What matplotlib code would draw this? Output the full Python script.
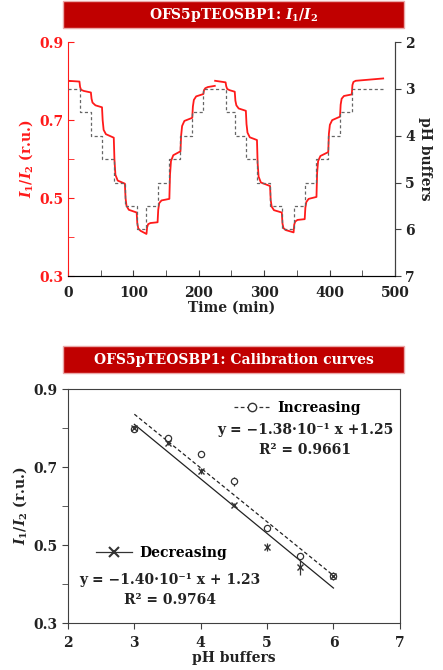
import numpy as np
import matplotlib
matplotlib.use("Agg")
import matplotlib.pyplot as plt
from matplotlib.patches import Rectangle
from matplotlib.lines import Line2D
from matplotlib.ticker import MultipleLocator, FixedLocator

plt.rcParams['font.family'] = ['DejaVu Serif']
plt.rcParams['font.weight'] = 'bold'
plt.rcParams['axes.labelweight'] = 'bold'
plt.rcParams['mathtext.fontset'] = 'custom'
plt.rcParams['mathtext.it'] = 'DejaVu Serif:italic:bold'
plt.rcParams['mathtext.rm'] = 'DejaVu Serif:bold'
plt.rcParams['mathtext.bf'] = 'DejaVu Serif:bold'

RED = '#ff1a1a'
BAR = '#c00000'
GREY = '#404040'
FS = 10

# --- time course: I1/I2 ratio (red), NaN marks the gap
time_min = [0, 17.5, 18.5, 20, 24, 35, 36, 37.5, 42, 52, 53, 54.5, 58, 70,
            71, 72.5, 76, 87, 88, 89.5, 93, 105, 106, 107.5, 111, 120,
            121, 122.5, 126, 137, 138, 139.5, 143, 155, 156, 157.5, 161, 172,
            173, 174.5, 178, 190, 191, 192.5, 196, 207, 208, 210, 214, 224.5,
            224.8, 225, 241, 242, 243.5, 247, 255, 256, 257.5, 261, 272,
            273, 274.5, 278, 289, 290, 291.5, 295, 309, 310, 311.5, 315, 327,
            328, 329.5, 333, 345, 346, 347.5, 351, 362, 363, 364.5, 368, 380,
            381, 382.5, 386, 398, 399, 400.5, 404, 416, 417, 418.5, 422, 434,
            435, 436.5, 440, 482]
ratio = [0.801, 0.799, 0.785, 0.778, 0.775, 0.771, 0.755, 0.745, 0.738, 0.733,
         0.700, 0.675, 0.664, 0.655, 0.600, 0.560, 0.545, 0.537, 0.500, 0.480,
         0.470, 0.463, 0.435, 0.422, 0.416, 0.408, 0.425, 0.433, 0.436, 0.438,
         0.470, 0.487, 0.494, 0.498, 0.560, 0.595, 0.610, 0.620, 0.660, 0.685,
         0.698, 0.706, 0.735, 0.752, 0.761, 0.767, 0.777, 0.782, 0.785, 0.788,
         np.nan, 0.801, 0.797, 0.787, 0.780, 0.777, 0.773, 0.750, 0.738, 0.730,
         0.724, 0.690, 0.668, 0.656, 0.649, 0.590, 0.555, 0.540, 0.531, 0.495,
         0.478, 0.469, 0.463, 0.435, 0.423, 0.418, 0.412, 0.432, 0.440, 0.444,
         0.446, 0.475, 0.490, 0.498, 0.503, 0.565, 0.595, 0.608, 0.618, 0.665,
         0.688, 0.700, 0.709, 0.740, 0.755, 0.762, 0.766, 0.790, 0.798, 0.801,
         0.807]

# pH buffer steps (dashed)
ph_times = [0, 18, 35, 52, 70, 87, 105, 120, 137, 155, 172, 190, 207, 242,
            255, 272, 289, 309, 327, 345, 362, 380, 398, 416, 434, 482]
ph_values = [3, 3.5, 4, 4.5, 5, 5.5, 6, 5.5, 5, 4.5, 4, 3.5, 3, 3.5, 4, 4.5,
             5, 5.5, 6, 5.5, 5, 4.5, 4, 3.5, 3]

# --- calibration points
ph_cal = [3, 3.5, 4, 4.5, 5, 5.5, 6]
inc_mean = [0.798, 0.776, 0.734, 0.664, 0.545, 0.471, 0.421]
inc_err = [0.004, 0.005, 0.006, 0.012, 0.005, 0.006, 0.008]
dec_mean = [0.800, 0.761, 0.691, 0.603, 0.496, 0.443, 0.421]
dec_err = [0.004, 0.004, 0.008, 0.004, 0.010, 0.020, 0.010]
inc_fit = (-0.138, 1.25)
dec_fit = (-0.140, 1.23)

ratio_ticks = [0.3, 0.5, 0.7, 0.9]

fig = plt.figure(figsize=(4.43, 6.70), dpi=100)


def title_bar(y0, h, text):
    fig.patches.append(Rectangle((0.142, y0), 0.770, h, transform=fig.transFigure,
                                 facecolor=BAR, edgecolor='#eaa8a8', lw=1.0))
    fig.text(0.527, y0 + h / 2, text, color='white', ha='center', va='center',
             fontsize=FS, fontweight='bold')


# ---------------- top panel
title_bar(0.958, 0.040, r'OFS5pTEOSBP1: $I_1/I_2$')
ax1 = fig.add_axes([0.1535, 0.588, 0.738, 0.349])
ax1.plot(time_min, ratio, color=RED, lw=1.3)
ax1.set_xlim(0, 500)
ax1.set_ylim(0.3, 0.9)
ax1.xaxis.set_major_locator(MultipleLocator(100))
ax1.xaxis.set_minor_locator(MultipleLocator(50))
ax1.yaxis.set_major_locator(FixedLocator(ratio_ticks))
ax1.yaxis.set_minor_locator(MultipleLocator(0.1))
ax1.tick_params(axis='x', which='both', direction='in', length=4, colors=GREY,
                labelcolor='#222222', labelsize=FS, pad=7)
ax1.tick_params(axis='y', which='both', direction='in', length=4, colors=RED,
                labelcolor=RED, labelsize=FS)
ax1.spines['left'].set_color(RED)
for s in ['bottom', 'top', 'right']:
    ax1.spines[s].set_color(GREY)
ax1.spines['top'].set_visible(False)
ax1.set_xlabel('Time (min)', fontsize=FS, labelpad=1, color='#222222')
ax1.set_ylabel(r'$I_1/I_2$ (r.u.)', fontsize=FS, color=RED, labelpad=3)

ax2 = ax1.twinx()
ax2.step(ph_times, ph_values + [ph_values[-1]], where='post', color='#666666',
         lw=0.9, ls=(0, (2.5, 2)))
ax2.set_ylim(7, 2)
ax2.yaxis.set_major_locator(MultipleLocator(1))
ax2.tick_params(axis='y', direction='out', length=4, colors=GREY,
                labelcolor='#222222', labelsize=FS)
ax2.spines['top'].set_visible(False)
ax2.spines['left'].set_visible(False)
ax2.spines['right'].set_color(GREY)
ax2.set_ylabel('pH buffers', rotation=270, fontsize=FS, labelpad=12, color='#222222')

# ---------------- bottom panel
title_bar(0.4433, 0.040, 'OFS5pTEOSBP1: Calibration curves')
ax3 = fig.add_axes([0.1535, 0.070, 0.749, 0.349])
ax3.errorbar(ph_cal, inc_mean, yerr=inc_err, fmt='o', mfc='white', mec='#333333',
             color='#333333', ms=4.5, mew=0.9, elinewidth=0.9, capsize=0, zorder=3)
ax3.errorbar(ph_cal, dec_mean, yerr=dec_err, fmt='x', color='#333333', ms=4.5,
             mew=1.0, elinewidth=0.9, capsize=0, zorder=3)
xf = np.array([ph_cal[0], ph_cal[-1]])
ax3.plot(xf, inc_fit[0] * xf + inc_fit[1], color='#222222', lw=0.9, ls=(0, (3, 2)))
ax3.plot(xf, dec_fit[0] * xf + dec_fit[1], color='#222222', lw=0.9)
ax3.set_xlim(2, 7)
ax3.set_ylim(0.3, 0.9)
ax3.yaxis.set_major_locator(FixedLocator(ratio_ticks))
ax3.yaxis.set_minor_locator(MultipleLocator(0.1))
ax3.tick_params(axis='both', which='both', direction='out', length=4,
                colors=GREY, labelcolor='#222222', labelsize=FS)
ax3.tick_params(axis='x', pad=5)
for s in ax3.spines.values():
    s.set_color(GREY)
ax3.set_xlabel('pH buffers', fontsize=FS, labelpad=1, color='#222222')
ax3.set_ylabel(r'$I_1/I_2$ (r.u.)', fontsize=FS, labelpad=3, color='#222222')

h_inc = Line2D([], [], color='#333333', ls=(0, (3, 2)), lw=0.9, marker='o',
               mfc='white', ms=6)
h_dec = Line2D([], [], color='#333333', lw=0.9, marker='x', ms=7, mew=1.5)
leg1 = ax3.legend([h_inc], ['Increasing'], loc='center left',
                  bbox_to_anchor=(0.50, 0.919), frameon=False, fontsize=FS,
                  handlelength=2.6, handletextpad=0.5, borderpad=0, borderaxespad=0)
ax3.add_artist(leg1)
ax3.legend([h_dec], ['Decreasing'], loc='center left',
           bbox_to_anchor=(0.085, 0.299), frameon=False, fontsize=FS,
           handlelength=2.6, handletextpad=0.5, borderpad=0, borderaxespad=0)

ax3.text(0.714, 0.825, 'y = \u22121.38\u00b710\u207b\u00b9 x +1.25', transform=ax3.transAxes,
         ha='center', va='center', fontsize=FS, color='#222222')
ax3.text(0.714, 0.739, 'R\u00b2 = 0.9661', transform=ax3.transAxes,
         ha='center', va='center', fontsize=FS, color='#222222')
ax3.text(0.307, 0.184, 'y = \u22121.40\u00b710\u207b\u00b9 x + 1.23', transform=ax3.transAxes,
         ha='center', va='center', fontsize=FS, color='#222222')
ax3.text(0.307, 0.098, 'R\u00b2 = 0.9764', transform=ax3.transAxes,
         ha='center', va='center', fontsize=FS, color='#222222')

fig.savefig('out.png', dpi=100)
